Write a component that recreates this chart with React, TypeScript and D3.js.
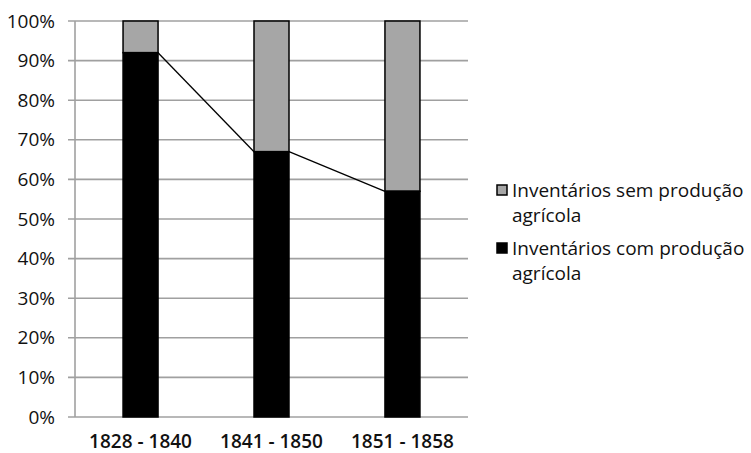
import React from "react";
import * as d3 from "d3";

const categories = ["1828 - 1840", "1841 - 1850", "1851 - 1858"];
const withProduction = [92, 67, 57];
const withoutProduction = [8, 33, 43];
const yTicks = [0, 10, 20, 30, 40, 50, 60, 70, 80, 90, 100];
const legendLabels = [
  ["Inventários sem produção", "agrícola"],
  ["Inventários com produção", "agrícola"],
];
const colors = { with: "#000000", without: "#a6a6a6", grid: "#a0a0a0" };

const W = 751;
const H = 453;
const M = { left: 75, right: 468, top: 21, bottom: 417 };
const FONT = "'Open Sans', sans-serif";

export default function App() {
  const x = d3.scaleBand<string>().domain(categories).range([M.left, M.right]).paddingInner(0.733).paddingOuter(0.367);
  const y = d3.scaleLinear().domain([0, 100]).range([M.bottom, M.top]);
  const bw = 35;
  const cx = (c: string) => (x(c) as number) + x.bandwidth() / 2;

  const linePts: [number, number][] = [];
  categories.forEach((c, i) => {
    if (i > 0) linePts.push([cx(c) - bw / 2, y(withProduction[i])]);
    if (i < categories.length - 1) linePts.push([cx(c) + bw / 2, y(withProduction[i])]);
  });
  const segs: [number, number][][] = [];
  for (let i = 0; i < linePts.length; i += 2) segs.push([linePts[i], linePts[i + 1]]);
  const line = d3.line();

  return (
    <svg width={W} height={H} style={{ position: "absolute", left: 0, top: 0, background: "#fff" }}>
      {yTicks.map((t) => (
        <g key={t}>
          <line x1={68} x2={M.right} y1={y(t)} y2={y(t)} stroke={colors.grid} strokeWidth={1.6} />
          <text x={55} y={y(t)} dy="0.35em" textAnchor="end" fontFamily={FONT} fontSize={19} fill="#111">
            {t}%
          </text>
        </g>
      ))}
      <line x1={M.left} x2={M.left} y1={M.top} y2={M.bottom} stroke={colors.grid} strokeWidth={1.6} />
      {categories.map((c, i) => (
        <g key={c}>
          <rect x={cx(c) - bw / 2} y={y(100)} width={bw} height={y(withProduction[i]) - y(100)} fill={colors.without} stroke="#000" strokeWidth={1.5} />
          <rect x={cx(c) - bw / 2} y={y(withProduction[i])} width={bw} height={y(0) - y(withProduction[i])} fill={colors.with} stroke="#000" strokeWidth={1.5} />
          <text x={cx(c)} y={448} textAnchor="middle" fontFamily={FONT} fontSize={19} fontWeight={600} fill="#111">
            {c}
          </text>
        </g>
      ))}
      {segs.map((s, i) => (
        <path key={i} d={line(s) || ""} stroke="#000" strokeWidth={1.3} fill="none" />
      ))}
      {legendLabels.map((lab, i) => {
        const ly = i === 0 ? 190 : 248;
        return (
          <g key={i}>
            <rect x={497} y={ly - 5} width={10} height={10} fill={i === 0 ? colors.without : colors.with} stroke="#000" strokeWidth={1.5} />
            <text x={512} y={ly} dy="0.35em" fontFamily={FONT} fontSize={19} fill="#111">
              {lab[0]}
            </text>
            <text x={512} y={ly + 25} dy="0.35em" fontFamily={FONT} fontSize={19} fill="#111">
              {lab[1]}
            </text>
          </g>
        );
      })}
    </svg>
  );
}
